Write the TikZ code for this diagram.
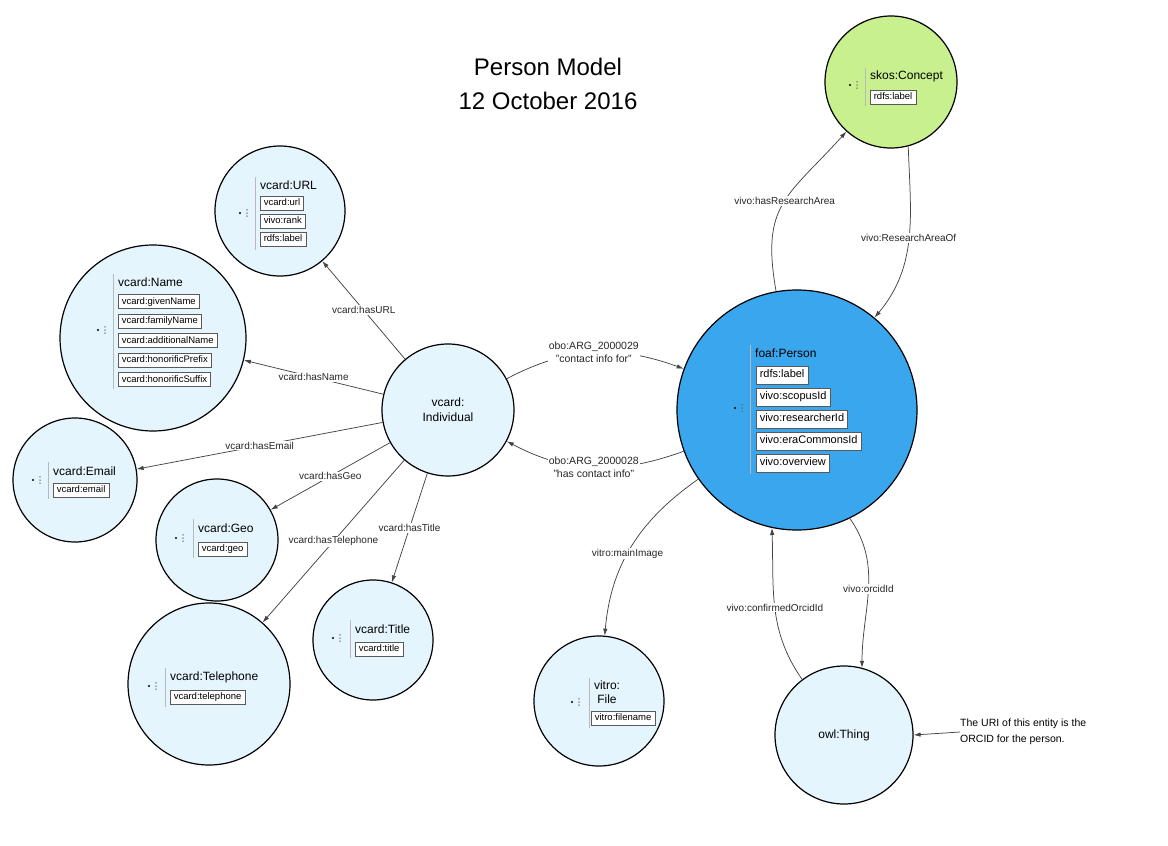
\documentclass[tikz,border=0pt]{standalone}
\usepackage{fontspec}
\setmainfont{Liberation Sans}
\usetikzlibrary{arrows.meta}

\definecolor{celeste}{RGB}{229,245,253}
\definecolor{azulpersona}{RGB}{58,166,237}
\definecolor{verdeconcepto}{RGB}{200,240,143}
\definecolor{linea}{RGB}{68,68,68}

% punto y puntos verticales de cada clase
\newcommand{\manija}[2]{%
  \fill (#1,#2) circle (1.1pt);
  \foreach \dy in {-3.2,0,3.2}
    \fill[gray!70!black] ({#1+7},{#2+\dy}) circle (0.75pt);
}

\tikzset{
  clase/.style={circle, draw=black, line width=1.2pt, fill=celeste, inner sep=0pt},
  titulo/.style={anchor=west, inner sep=0pt, font=\fontsize{12}{14}\selectfont},
  campo/.style={anchor=west, draw=gray!70!black, line width=0.6pt, fill=white,
    inner xsep=3.5pt, inner ysep=0pt, minimum height=14pt, text height=7pt, text depth=2pt,
    font=\fontsize{9.5}{11}\selectfont},
  campogrande/.style={campo, minimum height=18pt, text height=8pt, text depth=2.5pt,
    font=\fontsize{11}{13}\selectfont},
  barra/.style={gray!55, line width=0.8pt},
  rel/.style={draw=linea, line width=0.75pt, -{Latex[length=7pt,width=4.5pt]}},
  etiq/.style={fill=white, inner sep=1pt, text=black!85, font=\fontsize{10}{12.5}\selectfont, align=center}
}

\begin{document}
\begin{tikzpicture}[x=1pt, y=-1pt]
    \useasboundingbox (0,0) rectangle (1168,846);

    % Título
    \node[font=\fontsize{24}{34}\selectfont, align=center] (heading) at (548,84) {Person Model\\12 October 2016};

    % Círculos de las clases
    \node[clase, fill=verdeconcepto, minimum size=132pt] (concept) at (891,82) {};
    \node[clase, minimum size=130pt] (url) at (280,211) {};
    \node[clase, minimum size=186pt] (vname) at (153,338) {};
    \node[clase, minimum size=124pt] (email) at (75,480) {};
    \node[clase, minimum size=122pt] (geo) at (217,540) {};
    \node[clase, minimum size=162pt] (phone) at (209,684) {};
    \node[clase, minimum size=120pt] (vtitle) at (373,640) {};
    \node[clase, minimum size=132pt, align=center, font=\fontsize{12}{15}\selectfont] (indiv) at (448,410) {vcard:\\Individual};
    \node[clase, fill=azulpersona, minimum size=240pt] (person) at (797,410) {};
    \node[clase, minimum size=130pt] (file) at (599,701) {};
    \node[clase, minimum size=138pt, font=\fontsize{12}{14}\selectfont] (thing) at (844,735) {owl:Thing};

    % skos:Concept
    \manija{850}{85}
    \draw[barra] (865,68) -- (865,106);
    \node[titulo] (conceptT) at (870,76) {skos:Concept};
    \node[campo] (concept1) at (870,97) {rdfs:label};

    % vcard:URL
    \manija{240}{213}
    \draw[barra] (255,177) -- (255,250);
    \node[titulo] (urlT) at (260,185) {vcard:URL};
    \foreach \s [count=\i] in {vcard:url, vivo:rank, rdfs:label}
        \node[campo] (url\i) at (260,{185+18*\i}) {\s};

    % vcard:Name
    \manija{98}{330}
    \draw[barra] (113,274) -- (113,389);
    \node[titulo] (vnameT) at (118,282) {vcard:Name};
    \foreach \s [count=\i] in {givenName, familyName, additionalName, honorificPrefix, honorificSuffix}
        \node[campo] (vname\i) at (118,{282+19.5*\i}) {vcard:\s};

    % vcard:Email
    \manija{33}{480}
    \draw[barra] (48,462) -- (48,499);
    \node[titulo] (emailT) at (53,471) {vcard:Email};
    \node[campo] (email1) at (53,490) {vcard:email};

    % vcard:Geo
    \manija{176}{538}
    \draw[barra] (193,519) -- (193,558);
    \node[titulo] (geoT) at (198,528) {vcard:Geo};
    \node[campo] (geo1) at (198,549) {vcard:geo};

    % vcard:Telephone
    \manija{149}{686}
    \draw[barra] (165,668) -- (165,707);
    \node[titulo] (phoneT) at (170,677) {vcard:Telephone};
    \node[campo] (phone1) at (170,697) {vcard:telephone};

    % vcard:Title
    \manija{333}{638}
    \draw[barra] (350,620) -- (350,658);
    \node[titulo] (vtitleT) at (355,629) {vcard:Title};
    \node[campo] (vtitle1) at (355,649) {vcard:title};

    % foaf:Person
    \manija{735}{408}
    \draw[barra] (750,345) -- (750,474);
    \node[titulo] (personT) at (755,353) {foaf:Person};
    \foreach \s [count=\i] in {rdfs:label, vivo:scopusId, vivo:researcherId, vivo:eraCommonsId, vivo:overview}
        \node[campogrande] (person\i) at (756,{353+22*\i}) {\s};

    % vitro:File
    \manija{572}{702}
    \draw[barra] (589,678) -- (589,728);
    \node[titulo, anchor=center, align=center] (fileT) at (607,692) {vitro:\\File};
    \node[campo] (file1) at (591,718) {vitro:filename};

    % Nota
    \node[anchor=west, align=left, inner sep=0pt, font=\fontsize{10.5}{16}\selectfont] (note) at (960,732) {The URI of this entity is the\\ORCID for the person.};

    % Relaciones de vcard:Individual
    \draw[rel] (indiv) -- node[etiq] {vcard:hasURL} (url);
    \draw[rel] (indiv) -- node[etiq] {vcard:hasName} (vname);
    \draw[rel] (indiv) -- node[etiq] {vcard:hasEmail} (email.10);
    \draw[rel] (indiv) -- node[etiq] {vcard:hasGeo} (geo);
    \draw[rel] (indiv) -- node[etiq] {vcard:hasTelephone} (phone);
    \draw[rel] (indiv) -- node[etiq] {vcard:hasTitle} (vtitle);

    % Relaciones de foaf:Person
    \draw[rel] (indiv) to[out=28, in=160] node[etiq, font=\fontsize{10.5}{13}\selectfont] {obo:ARG\_2000029\\"contact info for"} (person);
    \draw[rel] (person) to[out=200, in=-28] node[etiq, font=\fontsize{10.5}{13}\selectfont] {obo:ARG\_2000028\\"has contact info"} (indiv);
    \draw[rel] (person) to[out=100, in=228, looseness=1.3] node[etiq, pos=0.52] {vivo:hasResearchArea} (concept);
    \draw[rel] (concept.-75) to[out=-88, in=50] node[etiq] {vivo:ResearchAreaOf} (person);
    \draw[rel] (person) to[out=215, in=85] node[etiq, pos=0.55] {vitro:mainImage} (file);
    \draw[rel] (person.-64) to[out=-55, in=90] node[etiq] {vivo:orcidId} (thing.75);
    \draw[rel] (thing.127) to[out=125, in=-88] node[etiq] {vivo:confirmedOrcidId} (person.-102);
    \draw[rel] (note.west) -- (thing.east);
\end{tikzpicture}
\end{document}
